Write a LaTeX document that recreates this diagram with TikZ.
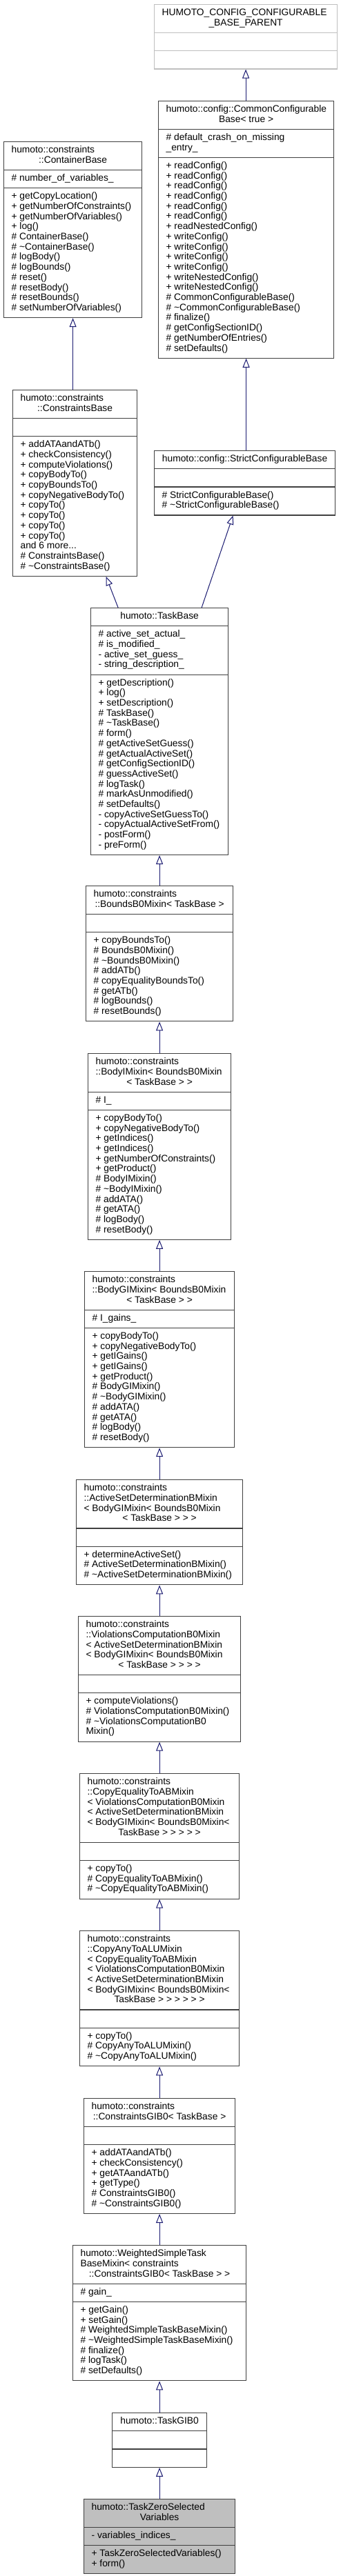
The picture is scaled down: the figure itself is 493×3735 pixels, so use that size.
\documentclass[tikz,border=0pt]{standalone}
\usepackage{fontspec}
\newfontfamily\umlfont{Liberation Sans}
\usetikzlibrary{arrows.meta, shapes.multipart}

\definecolor{edgeblue}{HTML}{191970}
\definecolor{boxline}{HTML}{404040}
\definecolor{parentline}{HTML}{BFBFBF}
\definecolor{currentfill}{HTML}{BFBFBF}

% one compartment of a class box, and its rows
\newcommand\umlsec[2]{\vbox{\hsize=#1pt\lineskiplimit=-\maxdimen\relax#2}}
\newcommand\lrow[1]{\hbox to\hsize{\strut#1\hfil}}
\newcommand\crow[1]{\hbox to\hsize{\hfil\strut#1\hfil}}
\newcommand\tld{\textasciitilde}

\begin{document}
\begin{tikzpicture}[x=1pt, y=-1pt,
  umlclass/.style={rectangle split, rectangle split parts=3, draw=boxline, line width=1.2pt,
    inner xsep=11pt, inner ysep=5.15pt, anchor=north west,
    font=\umlfont\fontsize{13.8}{14.7}\selectfont},
  inherit/.style={draw=edgeblue, line width=1pt, {Triangle[open, length=13pt, width=10pt]}-}
]
  \fill[white] (0,0) rectangle (493,3735);
  \useasboundingbox (0,0) rectangle (493,3735);

  % Upper classes
  \node[umlclass, draw=parentline] (cfgparent) at (223,6)
    {\umlsec{243}{\lrow{HUMOTO\_CONFIG\_CONFIGURABLE}\crow{\_BASE\_PARENT}}%
     \nodepart{two}\umlsec{243}{\lrow{}}%
     \nodepart{three}\umlsec{243}{\lrow{}}};
  \node[umlclass] (commoncfg) at (229,146)
    {\umlsec{232}{\lrow{humoto::config::CommonConfigurable}\crow{Base< true >}}%
     \nodepart{two}\umlsec{232}{\lrow{\# default\_crash\_on\_missing}\lrow{\_entry\_}}%
     \nodepart{three}\umlsec{232}{\lrow{+ readConfig()}\lrow{+ readConfig()}\lrow{+ readConfig()}%
       \lrow{+ readConfig()}\lrow{+ readConfig()}\lrow{+ readConfig()}\lrow{+ readNestedConfig()}%
       \lrow{+ writeConfig()}\lrow{+ writeConfig()}\lrow{+ writeConfig()}\lrow{+ writeConfig()}%
       \lrow{+ writeNestedConfig()}\lrow{+ writeNestedConfig()}\lrow{\# CommonConfigurableBase()}%
       \lrow{\# \tld CommonConfigurableBase()}\lrow{\# finalize()}\lrow{\# getConfigSectionID()}%
       \lrow{\# getNumberOfEntries()}\lrow{\# setDefaults()}}};
  \node[umlclass] (containerbase) at (5,205)
    {\umlsec{178}{\lrow{humoto::constraints}\crow{::ContainerBase}}%
     \nodepart{two}\umlsec{178}{\lrow{\# number\_of\_variables\_}}%
     \nodepart{three}\umlsec{178}{\lrow{+ getCopyLocation()}\lrow{+ getNumberOfConstraints()}%
       \lrow{+ getNumberOfVariables()}\lrow{+ log()}\lrow{\# ContainerBase()}\lrow{\# \tld ContainerBase()}%
       \lrow{\# logBody()}\lrow{\# logBounds()}\lrow{\# reset()}\lrow{\# resetBody()}%
       \lrow{\# resetBounds()}\lrow{\# setNumberOfVariables()}}};
  \node[umlclass] (constraintsbase) at (18,565)
    {\umlsec{158}{\lrow{humoto::constraints}\crow{::ConstraintsBase}}%
     \nodepart{two}\umlsec{158}{\lrow{}}%
     \nodepart{three}\umlsec{158}{\lrow{+ addATAandATb()}\lrow{+ checkConsistency()}%
       \lrow{+ computeViolations()}\lrow{+ copyBodyTo()}\lrow{+ copyBoundsTo()}%
       \lrow{+ copyNegativeBodyTo()}\lrow{+ copyTo()}\lrow{+ copyTo()}\lrow{+ copyTo()}%
       \lrow{+ copyTo()}\lrow{and 6 more...}\lrow{\# ConstraintsBase()}\lrow{\# \tld ConstraintsBase()}}};
  \node[umlclass] (strictcfg) at (223,653)
    {\umlsec{240}{\crow{humoto::config::StrictConfigurableBase}}%
     \nodepart{two}\umlsec{240}{\lrow{}}%
     \nodepart{three}\umlsec{240}{\lrow{\# StrictConfigurableBase()}\lrow{\# \tld StrictConfigurableBase()}}};

  % Task chain
  \node[umlclass] (taskbase) at (131,881)
    {\umlsec{177}{\crow{humoto::TaskBase}}%
     \nodepart{two}\umlsec{177}{\lrow{\# active\_set\_actual\_}\lrow{\# is\_modified\_}%
       \lrow{- active\_set\_guess\_}\lrow{- string\_description\_}}%
     \nodepart{three}\umlsec{177}{\lrow{+ getDescription()}\lrow{+ log()}\lrow{+ setDescription()}%
       \lrow{\# TaskBase()}\lrow{\# \tld TaskBase()}\lrow{\# form()}\lrow{\# getActiveSetGuess()}%
       \lrow{\# getActualActiveSet()}\lrow{\# getConfigSectionID()}\lrow{\# guessActiveSet()}%
       \lrow{\# logTask()}\lrow{\# markAsUnmodified()}\lrow{\# setDefaults()}%
       \lrow{- copyActiveSetGuessTo()}\lrow{- copyActualActiveSetFrom()}\lrow{- postForm()}\lrow{- preForm()}}};
  \node[umlclass] (boundsmix) at (124,1284)
    {\umlsec{191}{\lrow{humoto::constraints}\crow{::BoundsB0Mixin< TaskBase >}}%
     \nodepart{two}\umlsec{191}{\lrow{}}%
     \nodepart{three}\umlsec{191}{\lrow{+ copyBoundsTo()}\lrow{\# BoundsB0Mixin()}\lrow{\# \tld BoundsB0Mixin()}%
       \lrow{\# addATb()}\lrow{\# copyEqualityBoundsTo()}\lrow{\# getATb()}\lrow{\# logBounds()}%
       \lrow{\# resetBounds()}}};
  \node[umlclass] (bodyimix) at (127,1527)
    {\umlsec{185}{\lrow{humoto::constraints}\lrow{::BodyIMixin< BoundsB0Mixin}\crow{< TaskBase > >}}%
     \nodepart{two}\umlsec{185}{\lrow{\# I\_}}%
     \nodepart{three}\umlsec{185}{\lrow{+ copyBodyTo()}\lrow{+ copyNegativeBodyTo()}\lrow{+ getIndices()}%
       \lrow{+ getIndices()}\lrow{+ getNumberOfConstraints()}\lrow{+ getProduct()}\lrow{\# BodyIMixin()}%
       \lrow{\# \tld BodyIMixin()}\lrow{\# addATA()}\lrow{\# getATA()}\lrow{\# logBody()}\lrow{\# resetBody()}}};
  \node[umlclass] (bodygimix) at (122,1843)
    {\umlsec{195}{\lrow{humoto::constraints}\lrow{::BodyGIMixin< BoundsB0Mixin}\crow{< TaskBase > >}}%
     \nodepart{two}\umlsec{195}{\lrow{\# I\_gains\_}}%
     \nodepart{three}\umlsec{195}{\lrow{+ copyBodyTo()}\lrow{+ copyNegativeBodyTo()}\lrow{+ getIGains()}%
       \lrow{+ getIGains()}\lrow{+ getProduct()}\lrow{\# BodyGIMixin()}\lrow{\# \tld BodyGIMixin()}%
       \lrow{\# addATA()}\lrow{\# getATA()}\lrow{\# logBody()}\lrow{\# resetBody()}}};
  \node[umlclass] (activesetmix) at (110,2145)
    {\umlsec{219}{\lrow{humoto::constraints}\lrow{::ActiveSetDeterminationBMixin}%
       \lrow{< BodyGIMixin< BoundsB0Mixin}\crow{< TaskBase > > >}}%
     \nodepart{two}\umlsec{219}{\lrow{}}%
     \nodepart{three}\umlsec{219}{\lrow{+ determineActiveSet()}\lrow{\# ActiveSetDeterminationBMixin()}%
       \lrow{\# \tld ActiveSetDeterminationBMixin()}}};
  \node[umlclass] (violmix) at (113,2343)
    {\umlsec{213}{\lrow{humoto::constraints}\lrow{::ViolationsComputationB0Mixin}%
       \lrow{< ActiveSetDeterminationBMixin}\lrow{< BodyGIMixin< BoundsB0Mixin}\crow{< TaskBase > > > >}}%
     \nodepart{two}\umlsec{213}{\lrow{}}%
     \nodepart{three}\umlsec{213}{\lrow{+ computeViolations()}\lrow{\# ViolationsComputationB0Mixin()}%
       \lrow{\# \tld ViolationsComputationB0}\lrow{Mixin()}}};
  \node[umlclass] (copyeqmix) at (115,2571)
    {\umlsec{209}{\lrow{humoto::constraints}\lrow{::CopyEqualityToABMixin}%
       \lrow{< ViolationsComputationB0Mixin}\lrow{< ActiveSetDeterminationBMixin}%
       \lrow{< BodyGIMixin< BoundsB0Mixin<}\crow{TaskBase > > > > >}}%
     \nodepart{two}\umlsec{209}{\lrow{}}%
     \nodepart{three}\umlsec{209}{\lrow{+ copyTo()}\lrow{\# CopyEqualityToABMixin()}%
       \lrow{\# \tld CopyEqualityToABMixin()}}};
  \node[umlclass] (copyanymix) at (115,2799)
    {\umlsec{209}{\lrow{humoto::constraints}\lrow{::CopyAnyToALUMixin}\lrow{< CopyEqualityToABMixin}%
       \lrow{< ViolationsComputationB0Mixin}\lrow{< ActiveSetDeterminationBMixin}%
       \lrow{< BodyGIMixin< BoundsB0Mixin<}\crow{TaskBase > > > > > >}}%
     \nodepart{two}\umlsec{209}{\lrow{}}%
     \nodepart{three}\umlsec{209}{\lrow{+ copyTo()}\lrow{\# CopyAnyToALUMixin()}%
       \lrow{\# \tld CopyAnyToALUMixin()}}};
  \node[umlclass] (constraintsgib) at (121,3042)
    {\umlsec{197}{\lrow{humoto::constraints}\crow{::ConstraintsGIB0< TaskBase >}}%
     \nodepart{two}\umlsec{197}{\lrow{}}%
     \nodepart{three}\umlsec{197}{\lrow{+ addATAandATb()}\lrow{+ checkConsistency()}\lrow{+ getATAandATb()}%
       \lrow{+ getType()}\lrow{\# ConstraintsGIB0()}\lrow{\# \tld ConstraintsGIB0()}}};
  \node[umlclass] (weightedmix) at (105,3255)
    {\umlsec{229}{\lrow{humoto::WeightedSimpleTask}\lrow{BaseMixin< constraints}%
       \crow{::ConstraintsGIB0< TaskBase > >}}%
     \nodepart{two}\umlsec{229}{\lrow{\# gain\_}}%
     \nodepart{three}\umlsec{229}{\lrow{+ getGain()}\lrow{+ setGain()}\lrow{\# WeightedSimpleTaskBaseMixin()}%
       \lrow{\# \tld WeightedSimpleTaskBaseMixin()}\lrow{\# finalize()}\lrow{\# logTask()}\lrow{\# setDefaults()}}};
  \node[umlclass] (taskgib) at (162,3498)
    {\umlsec{115}{\crow{humoto::TaskGIB0}}%
     \nodepart{two}\umlsec{115}{\lrow{}}%
     \nodepart{three}\umlsec{115}{\lrow{}}};
  \node[umlclass, fill=currentfill] (taskzero) at (121,3623)
    {\umlsec{197}{\lrow{humoto::TaskZeroSelected}\crow{Variables}}%
     \nodepart{two}\umlsec{197}{\lrow{- variables\_indices\_}}%
     \nodepart{three}\umlsec{197}{\lrow{+ TaskZeroSelectedVariables()}\lrow{+ form()}}};

  % Inheritance arrows
  \draw[inherit] (cfgparent.south) -- (cfgparent.south |- commoncfg.north);
  \draw[inherit] (commoncfg.south) -- (commoncfg.south |- strictcfg.north);
  \draw[inherit] (containerbase.south) -- (containerbase.south |- constraintsbase.north);
  \draw[inherit] ([xshift=45pt]constraintsbase.south) -- ([xshift=-60pt]taskbase.north);
  \draw[inherit] ([xshift=-17pt]strictcfg.south) -- ([xshift=61pt]taskbase.north);
  \foreach \p/\c in {taskbase/boundsmix, boundsmix/bodyimix, bodyimix/bodygimix,
    bodygimix/activesetmix, activesetmix/violmix, violmix/copyeqmix, copyeqmix/copyanymix,
    copyanymix/constraintsgib, constraintsgib/weightedmix, weightedmix/taskgib, taskgib/taskzero}
    \draw[inherit] (\p.south) -- (\c.north);
\end{tikzpicture}
\end{document}
